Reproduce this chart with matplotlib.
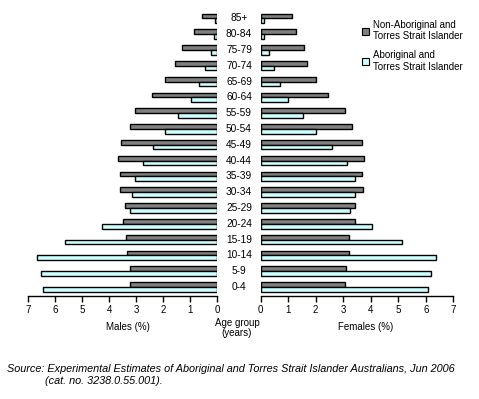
import matplotlib
matplotlib.use("Agg")
import matplotlib.pyplot as plt
import numpy as np
from matplotlib.patches import Patch

plt.rcParams['font.family'] = ['Liberation Sans', 'DejaVu Sans']

age_groups = ["0-4", "5-9", "10-14", "15-19", "20-24", "25-29", "30-34", "35-39",
              "40-44", "45-49", "50-54", "55-59", "60-64", "65-69", "70-74",
              "75-79", "80-84", "85+"]
male_non = [3.21, 3.24, 3.35, 3.39, 3.50, 3.43, 3.61, 3.61, 3.68, 3.57, 3.24,
            3.06, 2.43, 1.92, 1.55, 1.29, 0.85, 0.55]
male_abor = [6.45, 6.52, 6.67, 5.64, 4.27, 3.21, 3.17, 3.06, 2.73, 2.39, 1.95,
             1.44, 0.99, 0.66, 0.44, 0.22, 0.11, 0.07]
female_non = [3.05, 3.09, 3.20, 3.22, 3.42, 3.42, 3.71, 3.67, 3.75, 3.67, 3.31,
              3.05, 2.44, 2.00, 1.67, 1.56, 1.27, 1.13]
female_abor = [6.07, 6.18, 6.36, 5.13, 4.04, 3.26, 3.44, 3.44, 3.15, 2.60, 2.02,
               1.55, 1.00, 0.71, 0.49, 0.31, 0.13, 0.13]
series_labels = ["Non-Aboriginal and\nTorres Strait Islander",
                 "Aboriginal and\nTorres Strait Islander"]
ticks = [0, 1, 2, 3, 4, 5, 6, 7]

c_non = "#808080"
c_abor = "#CCFFFF"

W, H = 479, 399
fig = plt.figure(figsize=(W / 100, H / 100), dpi=100)

def fx(px):
    return px / W

def fy(py):
    return 1 - py / H

bottom = fy(295.7)
top = fy(10.4)
axL = fig.add_axes([fx(28), bottom, fx(217.3 - 28), top - bottom])
axR = fig.add_axes([fx(260.7), bottom, fx(453.3 - 260.7), top - bottom])

y = np.arange(len(age_groups))
bh = 0.3
for ax, non, ab in ((axL, male_non, male_abor), (axR, female_non, female_abor)):
    ax.barh(y + bh / 2, non, height=bh, color=c_non, edgecolor="black", linewidth=1.0)
    ax.barh(y - bh / 2, ab, height=bh, color=c_abor, edgecolor="black", linewidth=1.0)
    ax.set_xlim(0, 7)
    ax.set_ylim(-0.55, 17.5)
    ax.set_yticks([])
    for s in ("left", "right", "top"):
        ax.spines[s].set_visible(False)
    ax.spines["bottom"].set_linewidth(1.0)
    ax.set_xticks(ticks)
    ax.set_xticklabels([str(t) for t in ticks], fontsize=7)
    ax.tick_params(axis="x", direction="out", length=4, width=1.0, pad=3)
axL.invert_xaxis()

for yi, lab in zip(y, age_groups):
    fig.text(fx(239), axL.transData.transform((0, yi))[1] / H, lab,
             ha="center", va="center", fontsize=7.3)

fig.text(fx(128), fy(327), "Males (%)", ha="center", va="center", fontsize=7)
fig.text(fx(366), fy(327), "Females (%)", ha="center", va="center", fontsize=7)
fig.text(fx(237), fy(327.5), "Age group\n(years)", ha="center", va="center",
         fontsize=7, linespacing=1.0)

handles = [Patch(facecolor=c_non, edgecolor="black", linewidth=0.8),
           Patch(facecolor=c_abor, edgecolor="black", linewidth=0.8)]
fig.legend(handles, series_labels, loc="upper left",
           bbox_to_anchor=(fx(357), fy(15)), frameon=False, fontsize=7,
           handlelength=0.7, handleheight=0.7, handletextpad=0.4,
           labelspacing=0.9, borderpad=0)

fig.text(fx(7), fy(369), "Source: Experimental Estimates of Aboriginal and Torres Strait Islander Australians, Jun 2006",
         ha="left", va="center", fontsize=7.8, style="italic")
fig.text(fx(45), fy(381), "(cat. no. 3238.0.55.001).",
         ha="left", va="center", fontsize=7.8, style="italic")

fig.savefig("out.png", dpi=100)
